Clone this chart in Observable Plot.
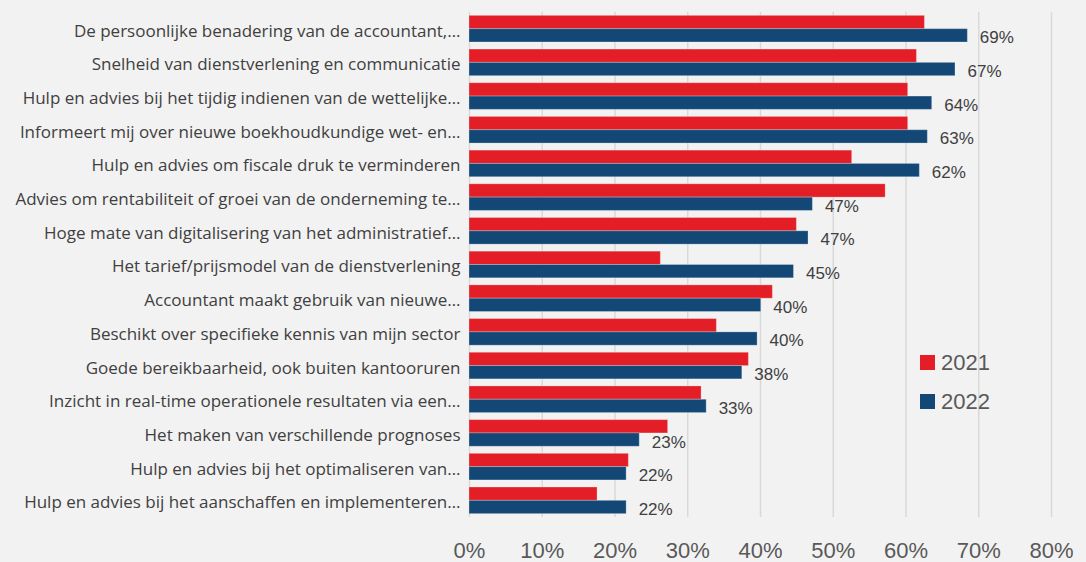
<!DOCTYPE html>
<html>
<head>
<meta charset="utf-8">
<script src="https://cdn.jsdelivr.net/npm/d3@7"></script>
<script src="https://cdn.jsdelivr.net/npm/@observablehq/plot@0.6"></script>
<style>
  html, body { margin: 0; padding: 0; background: #f2f2f2; }
  #wrap { position: relative; width: 1086px; height: 562px; overflow: hidden; }
  #legend { position: absolute; left: 920px; top: 343px; font-family: "Liberation Sans", Arial, sans-serif; font-size: 22px; color: #595959; }
  #legend .item { display: flex; align-items: center; height: 39px; }
  #legend .sw { width: 15px; height: 15px; margin-right: 6px; }
</style>
</head>
<body>
<div id="wrap"><div id="chart"></div><div id="legend"></div></div>
<script>
const categories = [
  "De persoonlijke benadering van de accountant,…",
  "Snelheid van dienstverlening en communicatie",
  "Hulp en advies bij het tijdig indienen van de wettelijke…",
  "Informeert mij over nieuwe boekhoudkundige wet- en…",
  "Hulp en advies om fiscale druk te verminderen",
  "Advies om rentabiliteit of groei van de onderneming te…",
  "Hoge mate van digitalisering van het administratief…",
  "Het tarief/prijsmodel van de dienstverlening",
  "Accountant maakt gebruik van nieuwe…",
  "Beschikt over specifieke kennis van mijn sector",
  "Goede bereikbaarheid, ook buiten kantooruren",
  "Inzicht in real-time operationele resultaten via een…",
  "Het maken van verschillende prognoses",
  "Hulp en advies bij het optimaliseren van…",
  "Hulp en advies bij het aanschaffen en implementeren…"
];
const values2021 = [0.626, 0.615, 0.603, 0.603, 0.526, 0.572, 0.450, 0.263, 0.417, 0.340, 0.384, 0.319, 0.273, 0.219, 0.176];
const values2022 = [0.685, 0.668, 0.636, 0.630, 0.619, 0.472, 0.466, 0.446, 0.401, 0.396, 0.375, 0.326, 0.234, 0.216, 0.216];
const valueLabels2022 = ["69%", "67%", "64%", "63%", "62%", "47%", "47%", "45%", "40%", "40%", "38%", "33%", "23%", "22%", "22%"];
const years = ["2021", "2022"];
const colors = ["#e31e26", "#134876"];
const xTicks = [0, 0.1, 0.2, 0.3, 0.4, 0.5, 0.6, 0.7, 0.8];

const W = 1086, H = 562;
const mTop = 12, mBottom = 45;
const pInner = 0.21, pOuter = 0.1;
const step = (H - mTop - mBottom) / (categories.length - pInner + 2 * pOuter);
const half = step * (1 - pInner) / 2;

const rows2021 = categories.map((c, i) => ({category: c, value: values2021[i]}));
const rows2022 = categories.map((c, i) => ({category: c, value: values2022[i], label: valueLabels2022[i]}));

const font = "'Liberation Sans', Arial, sans-serif";

const chart = Plot.plot({
  width: W,
  height: H,
  marginLeft: 469,
  marginRight: 35,
  marginTop: mTop,
  marginBottom: mBottom,
  style: {background: "#f2f2f2", fontFamily: font, color: "#404040"},
  x: {domain: [0, 0.8], axis: null},
  y: {domain: categories, paddingInner: pInner, paddingOuter: pOuter, round: false, axis: null},
  marks: [
    Plot.gridX(xTicks, {stroke: "#d9d9d9", strokeWidth: 1.5, strokeOpacity: 1}),
    Plot.barX(rows2021, {x: "value", y: "category", fill: colors[0], insetBottom: half, stroke: "#ffffff", strokeOpacity: 0.25, strokeWidth: 1}),
    Plot.barX(rows2022, {x: "value", y: "category", fill: colors[1], insetTop: half, stroke: "#ffffff", strokeOpacity: 0.25, strokeWidth: 1}),
    Plot.text(rows2022, {x: "value", y: "category", text: "label", dx: 12, dy: half / 2 + 2, textAnchor: "start", fontSize: 17, fill: "#404040"}),
    Plot.axisY({tickSize: 0, tickPadding: 9, dy: 2, fontSize: 17, fontFamily: "'Open Sans', sans-serif", fill: "#404040", textAnchor: "end", label: null}),
    Plot.axisX(xTicks, {tickSize: 0, tickPadding: 25, fontSize: 22, fill: "#595959", tickFormat: d3.format(".0%"), label: null})
  ]
});
document.getElementById("chart").appendChild(chart);

const legend = document.getElementById("legend");
years.forEach((y, i) => {
  const item = document.createElement("div");
  item.className = "item";
  const sw = document.createElement("span");
  sw.className = "sw";
  sw.style.background = colors[i];
  const t = document.createElement("span");
  t.textContent = y;
  item.appendChild(sw);
  item.appendChild(t);
  legend.appendChild(item);
});
</script>
</body>
</html>
